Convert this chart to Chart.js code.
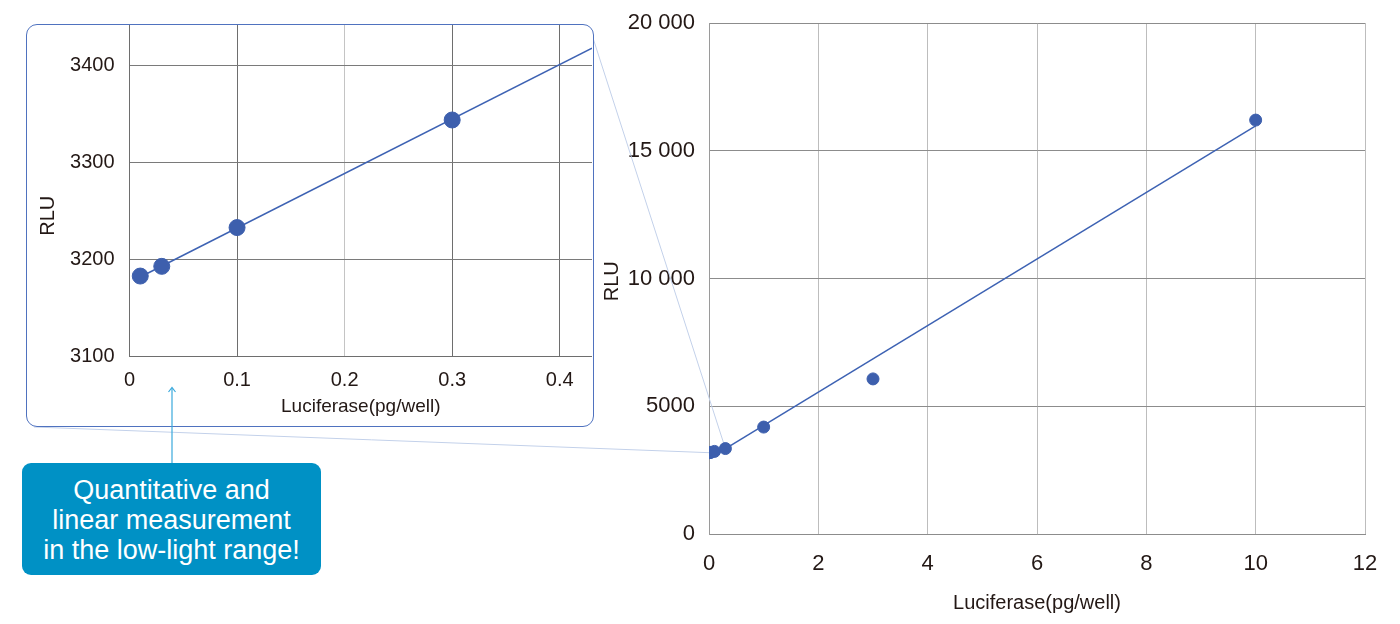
<!DOCTYPE html>
<html>
<head>
<meta charset="utf-8">
<script src="https://cdn.jsdelivr.net/npm/chart.js@4.4.1/dist/chart.umd.min.js"></script>
<style>
  html, body { margin: 0; padding: 0; background: #fff; }
  #stage { position: relative; width: 1400px; height: 624px; overflow: hidden; font-family: "Liberation Sans", Arial, sans-serif; }
  #mainChart { position: absolute; left: 0; top: 0; }
  #insetBox { position: absolute; left: 26px; top: 24px; width: 568px; height: 403px; box-sizing: border-box;
              border: 1.5px solid #4f72bf; border-radius: 11px; background: #fff; overflow: hidden; }
  #insetChart { position: absolute; left: 0; top: 0; }
  #callout { position: absolute; left: 22px; top: 463px; width: 299px; height: 112px; box-sizing: border-box;
             padding-top: 12px; background: #0091c5; border-radius: 9px; color: #fff;
             font-size: 27px; line-height: 30px; text-align: center; }
  #arrow { position: absolute; left: 0; top: 0; pointer-events: none; }
</style>
</head>
<body>
<div id="stage">
  <canvas id="mainChart" width="1400" height="624"></canvas>
  <div id="insetBox"><canvas id="insetChart" width="565" height="400"></canvas></div>
  <div id="callout">Quantitative and<br>linear measurement<br>in the low-light range!</div>
  <svg id="arrow" width="1400" height="624">
    <line x1="172" y1="463" x2="172" y2="388" stroke="#3aa9dc" stroke-width="1.2"/>
    <polyline points="168.5,392 172,387.5 175.5,392" fill="none" stroke="#3aa9dc" stroke-width="1.2"/>
  </svg>
</div>
<script>
// Main chart data
const mainX = [0.01, 0.03, 0.1, 0.3, 1, 3, 10];
const mainRLU = [3183, 3193, 3233, 3344, 4185, 6070, 16200];
const mainFitX = [0.01, 10];
const mainFitRLU = [2960, 15970];
const mainXTicks = [0, 2, 4, 6, 8, 10, 12];
const mainYTicks = [0, 5000, 10000, 15000, 20000];
const mainYLabels = ['0', '5000', '10 000', '15 000', '20 000'];

// Inset (zoomed low range) data
const insetX = [0.01, 0.03, 0.1, 0.3];
const insetRLU = [3183, 3193, 3233, 3344];
const insetFitX = [0.01, 0.43];
const insetFitRLU = [3182, 3418];
const insetXTicks = [0, 0.1, 0.2, 0.3, 0.4];
const insetXLabels = ['0', '0.1', '0.2', '0.3', '0.4'];
const insetYTicks = [3100, 3200, 3300, 3400];
const insetYLabels = ['3100', '3200', '3300', '3400'];

// where the zoom connector lines land on the main chart (data units)
const connectorTargets = [[0, 3183], [0.3, 3344]];

const pointColor = '#3d5fad';
const lineColor = '#3d62b3';
const textColor = '#231815';

Chart.defaults.font.family = '"Liberation Sans", Arial, sans-serif';
Chart.defaults.color = textColor;

function toPoints(xs, ys) {
    return xs.map((x, i) => ({ x: x, y: ys[i] }));
}

// light lines from the inset box to the matching spot on the main chart
const connectorPlugin = {
    id: 'connectors',
    beforeDatasetsDraw(chart) {
        const ctx = chart.ctx;
        const xs = chart.scales.x, ys = chart.scales.y;
        const starts = [[34, 427], [593, 38]];
        ctx.save();
        ctx.strokeStyle = '#c3d1ea';
        ctx.lineWidth = 1;
        connectorTargets.forEach((t, i) => {
            ctx.beginPath();
            ctx.moveTo(starts[i][0], starts[i][1]);
            ctx.lineTo(xs.getPixelForValue(t[0]), ys.getPixelForValue(t[1]));
            ctx.stroke();
        });
        ctx.restore();
    }
};

let mainChart = new Chart(document.getElementById('mainChart'), {
    type: 'scatter',
    data: {
        datasets: [{
            data: toPoints(mainX, mainRLU),
            backgroundColor: pointColor,
            borderColor: pointColor,
            pointRadius: 6,
            order: 0
        }, {
            data: toPoints(mainFitX, mainFitRLU),
            showLine: true,
            borderColor: lineColor,
            borderWidth: 1.5,
            pointRadius: 0,
            order: 1
        }]
    },
    options: {
        responsive: false,
        animation: false,
        layout: { padding: { left: 590, right: 35, top: 23, bottom: 0 }, autoPadding: false },
        plugins: { legend: { display: false }, tooltip: { enabled: false } },
        scales: {
            x: {
                type: 'linear',
                min: 0,
                max: 12,
                afterBuildTicks: (scale) => { scale.ticks = mainXTicks.map(v => ({ value: v })); },
                afterFit: (scale) => { scale.height = 90; scale.paddingLeft = 0; scale.paddingRight = 0; },
                grid: { color: '#bdbdbd', lineWidth: 1, drawTicks: false },
                border: { color: '#8c8c8c' },
                ticks: { font: { size: 22 }, padding: 17, color: textColor },
                title: { display: true, text: 'Luciferase(pg/well)', font: { size: 20 }, padding: { top: 0, bottom: 9 }, color: textColor }
            },
            y: {
                type: 'linear',
                min: 0,
                max: 20000,
                afterBuildTicks: (scale) => { scale.ticks = mainYTicks.map(v => ({ value: v })); },
                afterFit: (scale) => { scale.width = 119; scale.paddingTop = 0; scale.paddingBottom = 0; },
                grid: { color: '#8c8c8c', lineWidth: 1, drawTicks: false },
                border: { color: '#9a9a9a' },
                ticks: { font: { size: 22 }, padding: 14, color: textColor, callback: (v, i) => mainYLabels[i] },
                title: { display: true, text: 'RLU\u00a0', font: { size: 20 }, padding: { top: 10, bottom: 0 }, color: textColor }
            }
        }
    },
    plugins: [connectorPlugin]
});

let insetChart = new Chart(document.getElementById('insetChart'), {
    type: 'scatter',
    data: {
        datasets: [{
            data: toPoints(insetX, insetRLU),
            backgroundColor: pointColor,
            borderColor: pointColor,
            pointRadius: 8,
            order: 0
        }, {
            data: toPoints(insetFitX, insetFitRLU),
            showLine: true,
            borderColor: lineColor,
            borderWidth: 1.5,
            pointRadius: 0,
            order: 1
        }]
    },
    options: {
        responsive: false,
        animation: false,
        layout: { padding: 0, autoPadding: false },
        plugins: { legend: { display: false }, tooltip: { enabled: false } },
        scales: {
            x: {
                type: 'linear',
                min: 0,
                max: 0.43,
                afterBuildTicks: (scale) => { scale.ticks = insetXTicks.map(v => ({ value: v })); },
                afterFit: (scale) => { scale.height = 68.5; scale.paddingLeft = 0; scale.paddingRight = 0; },
                grid: {
                    color: (c) => c.index === 2 ? '#c4c4c4' : '#6e6e6e',
                    lineWidth: 1,
                    drawTicks: false
                },
                border: { color: '#6e6e6e' },
                ticks: { font: { size: 20 }, padding: 12, color: textColor, callback: (v, i) => insetXLabels[i] },
                title: { display: true, text: 'Luciferase(pg/well)', font: { size: 19 }, padding: { top: 0, bottom: 7 }, color: textColor }
            },
            y: {
                type: 'linear',
                min: 3100,
                max: 3442,
                afterBuildTicks: (scale) => { scale.ticks = insetYTicks.map(v => ({ value: v })); },
                afterFit: (scale) => { scale.width = 102.5; scale.paddingTop = 0; scale.paddingBottom = 0; },
                grid: { color: '#7a7a7a', lineWidth: 1, drawTicks: false },
                border: { color: '#6e6e6e' },
                ticks: { font: { size: 20 }, padding: 15, color: textColor, callback: (v, i) => insetYLabels[i] },
                // trailing no-break spaces move the label down the axis, as in the original
                title: { display: true, text: 'RLU' + '\u00a0'.repeat(9), font: { size: 20 }, padding: { top: 9, bottom: 0 }, color: textColor }
            }
        }
    }
});
</script>
</body>
</html>
